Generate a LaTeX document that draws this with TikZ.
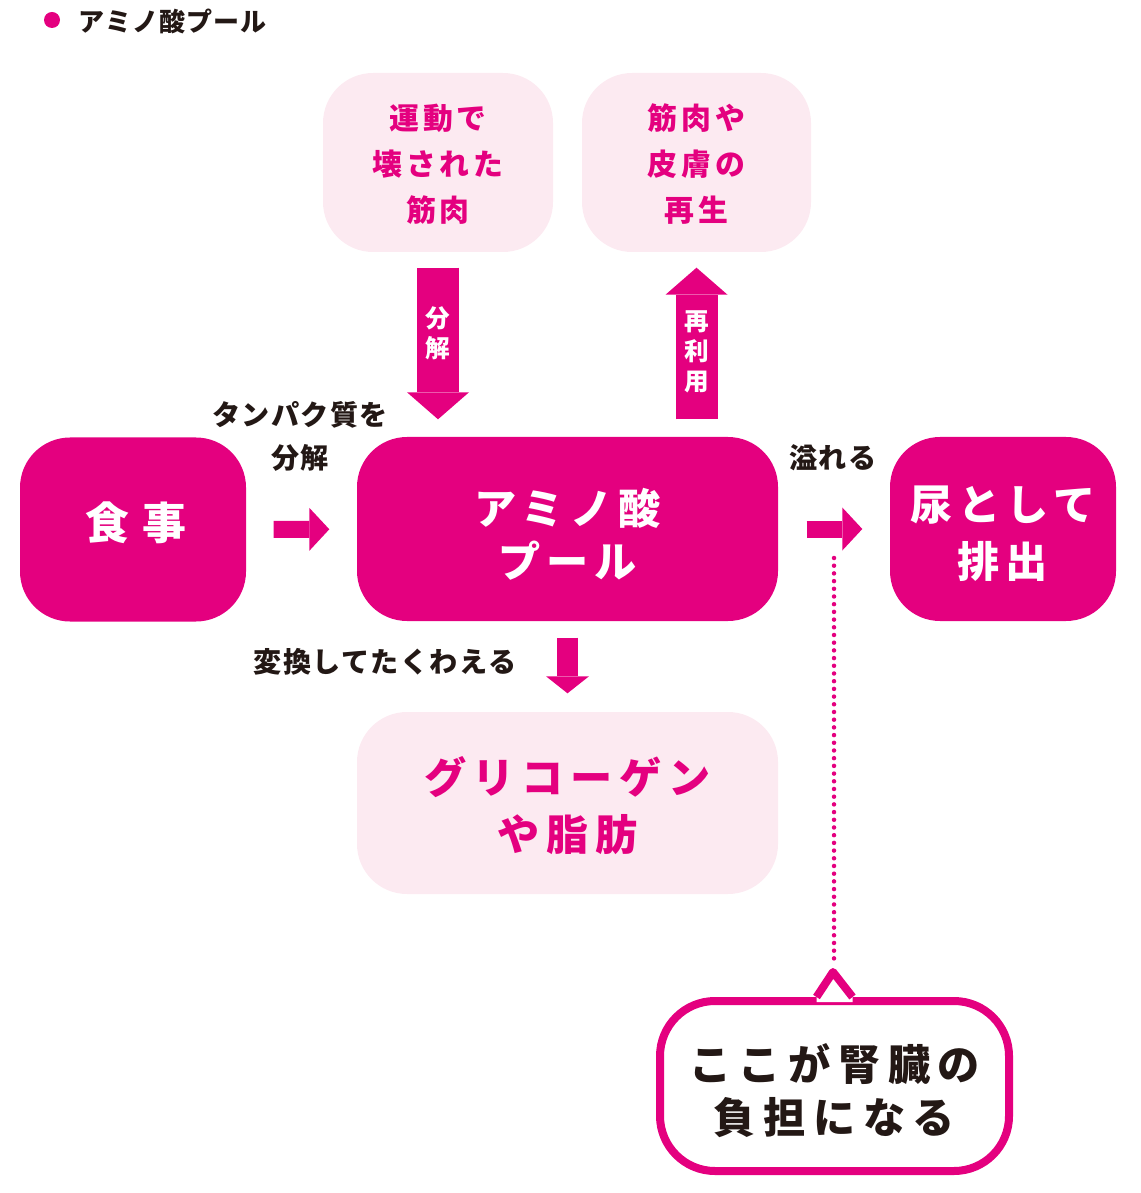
\documentclass[tikz,border=0pt]{standalone}
\usepackage{fontspec}
\setmainfont{Noto Sans CJK JP}
\usepackage{tikz}
\usetikzlibrary{arrows.meta, calc}
\definecolor{amino}{HTML}{E4007F}
\definecolor{aminopale}{HTML}{FCEAF1}
\definecolor{inkblack}{HTML}{231815}
% move a line of text up or down without changing its box
\newcommand{\nudge}[2]{\raisebox{#1}[\height][\depth]{#2}}
\tikzset{
  poolbox/.style={
    rounded corners=0.5cm, fill=amino, text=white, align=center,
    inner sep=0pt, minimum width=2.26cm, minimum height=1.84cm
  },
  palebox/.style={
    rounded corners=0.5cm, fill=aminopale, text=amino, align=center,
    inner sep=0pt, minimum width=2.3cm, minimum height=1.79cm
  },
  bigfont/.style={
    font=\bfseries\fontsize{12}{15.1}\selectfont\addfontfeature{LetterSpace=#1}
  },
  smallfont/.style={
    font=\bfseries\fontsize{8.5}{13.1}\selectfont\addfontfeature{LetterSpace=13}
  },
  taglabel/.style={
    text=inkblack, align=center, inner sep=0pt,
    font=\bfseries\fontsize{8}{12.2}\selectfont\addfontfeature{LetterSpace=5}
  },
  arrowlabel/.style={
    text=white, align=center, inner sep=0pt,
    font=\bfseries\fontsize{7}{8.4}\selectfont
  },
  bigarrow/.style={
    draw=amino, line width=0.42cm,
    -{Triangle[length=0.27cm, width=0.62cm, line width=0pt]}
  },
  flatarrow/.style={
    draw=amino, line width=0.17cm,
    -{Triangle[length=0.2cm, width=0.43cm, line width=0pt]}
  },
  downarrow/.style={
    draw=amino, line width=0.21cm,
    -{Triangle[length=0.17cm, width=0.43cm, line width=0pt]}
  },
  dotline/.style={
    draw=amino, line width=0.045cm, line cap=round,
    dash pattern=on 0pt off 0.077cm
  },
  bubble/.style={
    draw=amino, line width=0.08cm, fill=white, rounded corners=0.55cm,
    text=inkblack, align=center, inner sep=0pt,
    minimum width=3.49cm, minimum height=1.7cm
  },
}

\begin{document}
\begin{tikzpicture}
  \useasboundingbox (0,0) rectangle (11.4,-11.93);
  % legend
  \fill[amino] (0.52,-0.2) circle (0.08);
  \node[anchor=west, inner sep=0pt, text=inkblack,
    font=\bfseries\fontsize{7.4}{9}\selectfont\addfontfeature{LetterSpace=4}]
    (legend) at (0.78,-0.21) {アミノ酸プール};
  % main row
  \node[poolbox, font=\bfseries\fontsize{12.5}{15}\selectfont\addfontfeature{LetterSpace=30}]
    (meal) at (1.33,-5.295) {\nudge{0.07cm}{\hspace*{0.06cm}食事}};
  \node[poolbox, bigfont=14, minimum width=4.21cm] (pool) at (5.675,-5.29)
    {\nudge{-0.05cm}{アミノ酸}\\\nudge{-0.05cm}{プール}};
  \node[poolbox, font=\bfseries\fontsize{12}{16.2}\selectfont\addfontfeature{LetterSpace=14}]
    (urine) at (10.03,-5.29) {\nudge{-0.05cm}{尿として}\\\nudge{-0.05cm}{排出}};
  % upper boxes
  \node[palebox, smallfont] (muscle) at (4.38,-1.625)
    {\nudge{-0.02cm}{運動で}\\\nudge{-0.02cm}{壊された}\\\nudge{-0.02cm}{筋肉}};
  \node[palebox, smallfont, minimum width=2.29cm] (regen) at (6.965,-1.625)
    {\nudge{-0.02cm}{筋肉や}\\\nudge{-0.02cm}{皮膚の}\\\nudge{-0.02cm}{再生}};
  % lower box
  \node[palebox, minimum width=4.21cm, minimum height=1.82cm,
    font=\bfseries\fontsize{12}{16.2}\selectfont\addfontfeature{LetterSpace=16}]
    (glyco) at (5.675,-8.03)
    {\nudge{-0.03cm}{グリコーゲン}\\\nudge{-0.03cm}{や脂肪}};
  % speech bubble
  \node[bubble, font=\bfseries\fontsize{12}{15.1}\selectfont\addfontfeature{LetterSpace=18}]
    (burden) at (8.345,-10.86)
    {\nudge{-0.05cm}{ここが腎臓の}\\\nudge{-0.05cm}{負担になる}};
  \coordinate (tip) at (8.33,-9.72);
  \fill[white] ($(burden.north)+(-0.18,-0.05)$) -- ($(burden.north)+(-0.18,0)$)
    -- (tip) -- ($(burden.north)+(0.18,0)$) -- ($(burden.north)+(0.18,-0.05)$) -- cycle;
  \draw[amino, line width=0.08cm, line join=round]
    ($(burden.north)+(-0.18,0)$) -- (tip) -- ($(burden.north)+(0.18,0)$);
  % arrows
  \draw[bigarrow, shorten <=0.15cm, shorten >=0.17cm]
    (muscle.south) -- (muscle.south |- pool.north)
    node[arrowlabel, pos=0.44] (breakdown) {分\\解};
  \draw[bigarrow, shorten <=0.17cm, shorten >=0.15cm]
    (regen.south |- pool.north) -- (regen.south)
    node[arrowlabel, pos=0.46] (reuse) {再\\利\\用};
  \draw[flatarrow, shorten <=0.27cm, shorten >=0.27cm] (meal) -- (pool);
  \draw[flatarrow, shorten <=0.28cm, shorten >=0.27cm] (pool) -- (urine);
  \draw[downarrow, shorten <=0.16cm, shorten >=0.18cm] (pool) -- (glyco);
  % labels
  \node[taglabel] (protein) at (3.0,-4.36) {タンパク質を\\分解};
  \node[taglabel] (overflow) at (8.33,-4.58) {溢れる};
  \node[taglabel] (store) at (3.85,-6.62) {変換してたくわえる};
  % dotted line to bubble
  \coordinate (spill) at ($(pool.east)!0.5!(urine.west)$);
  \draw[dotline, shorten <=0.29cm, shorten >=0.1cm] (spill) -- (spill |- tip);
\end{tikzpicture}
\end{document}
